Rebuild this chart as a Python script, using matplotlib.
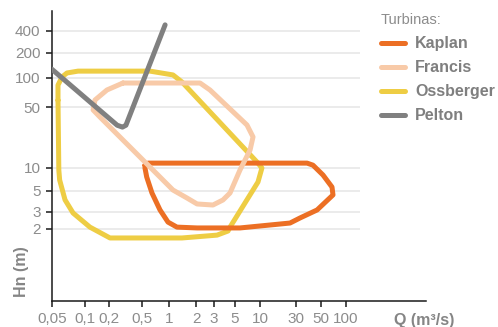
import numpy as np
import matplotlib.pyplot as plt

plt.rcParams['font.family'] = ['Liberation Sans', 'DejaVu Sans']

# axis ticks
q_ticks = [0.05, 0.1, 0.2, 0.5, 1, 2, 3, 5, 10, 30, 50, 100]
q_tick_labels = ['0,05', '0,1', '0,2', '0,5', '1', '2', '3', '5', '10', '30', '50', '100']
h_ticks = [2, 3, 5, 10, 50, 100, 200, 400]
h_tick_labels = ['2', '3', '5', '10', '50', '100', '200', '400']

# application ranges, Q (m3/s) vs Hn (m)
kaplan_q = [0.543, 0.586, 37.7, 42.6, 53.3, 68.4, 70.3, 46.4, 32.6, 25.0, 5.74, 2.05, 1.22, 0.968, 0.792, 0.647, 0.567, 0.543, 0.543]
kaplan_h = [10.7, 11.3, 11.3, 10.7, 8.02, 5.58, 4.51, 3.13, 2.59, 2.30, 2.05, 2.05, 2.09, 2.35, 3.13, 4.73, 7.55, 9.9, 10.7]

francis_q = [0.294, 2.19, 2.74, 6.97, 8.24, 7.59, 5.74, 4.43, 3.73, 2.93, 2.05, 1.58, 1.10, 0.391, 0.153, 0.126, 0.133, 0.187, 0.294]
francis_h = [88.3, 88.3, 75, 31.2, 22.7, 16.0, 9.33, 4.73, 3.99, 3.53, 3.62, 4.19, 5.1, 16.0, 38.6, 46.6, 59.3, 75, 88.3]

ossberger_q = [0.057, 0.057, 0.062, 0.0687, 0.0865, 0.617, 1.10, 1.39, 9.46, 10.6, 9.46, 4.43, 4.22, 3.23, 1.39, 0.204, 0.115, 0.078, 0.066, 0.059, 0.058, 0.057]
ossberger_h = [59, 84, 102, 114, 120, 120, 108, 90.4, 11.3, 9.9, 6.5, 2.09, 1.90, 1.71, 1.59, 1.59, 2.09, 2.91, 4.0, 6.9, 9.3, 59]

pelton_q = [0.05, 0.25, 0.29, 0.32, 0.9]
pelton_h = [127, 31, 29.5, 31, 480]

Q_MAX = 800
H_MIN, H_MAX = 0.317, 740

# the original axes are log-like but unevenly spaced, so pin each tick to its
# pixel position and interpolate in log space in between
x_px = [51.7, 85, 109.3, 141.7, 169.3, 196, 214, 235, 260, 296, 320.7, 345.7, 426]
y_px = [301, 229, 211.7, 190.7, 167.7, 107.3, 77.7, 52.7, 30.7, 11]


def make_scale(vals, px, flip=False):
    lv = np.log10(vals)
    p = -np.asarray(px, float) if flip else np.asarray(px, float)

    def fwd(v):
        return np.interp(np.log10(np.clip(v, 1e-9, None)), lv, p)

    def inv(t):
        return 10 ** np.interp(t, p, lv)

    return fwd, inv


W, H = 498, 327
fig = plt.figure(figsize=(W / 100, H / 100), dpi=100)
ax = fig.add_axes([x_px[0] / W, (H - y_px[0]) / H,
                   (x_px[-1] - x_px[0]) / W, (y_px[0] - y_px[-1]) / H])

ax.set_xscale('function', functions=make_scale(q_ticks + [Q_MAX], x_px))
ax.set_yscale('function', functions=make_scale([H_MIN] + h_ticks + [H_MAX], y_px, flip=True))
ax.set_xlim(q_ticks[0], Q_MAX)
ax.set_ylim(H_MIN, H_MAX)

ax.hlines(h_ticks, q_ticks[0], 145, color='#e6e6e6', lw=1.1, zorder=0)

style = dict(lw=3.6, solid_joinstyle='round', solid_capstyle='round')
l_oss, = ax.plot(ossberger_q, ossberger_h, color='#eecd44', zorder=2, label='Ossberger', **style)
l_kap, = ax.plot(kaplan_q, kaplan_h, color='#ec6f24', zorder=3, label='Kaplan', **style)
l_fra, = ax.plot(francis_q, francis_h, color='#f8caa8', zorder=4, label='Francis', **style)
l_pel, = ax.plot(pelton_q, pelton_h, color='#808080', zorder=5, label='Pelton', **style)

ax.set_xticks(q_ticks, labels=q_tick_labels)
ax.set_yticks(h_ticks, labels=h_tick_labels)
ax.minorticks_off()
ax.tick_params(labelsize=11, colors='#1a1a1a', labelcolor='#8c8c8c', length=4, width=1.1, pad=4)

for side in ['top', 'right']:
    ax.spines[side].set_visible(False)
for side in ['left', 'bottom']:
    ax.spines[side].set_linewidth(1.1)
    ax.spines[side].set_color('#1a1a1a')

ylab = ax.set_ylabel('Hn (m)', fontsize=11.5, fontweight='bold', color='#858585')
ylab.set_va('center')
ax.yaxis.set_label_coords(-0.082, 0.1)
xlab = ax.set_xlabel('Q (m³/s)', fontsize=11.5, fontweight='bold', color='#858585')
xlab.set_va('center')
ax.xaxis.set_label_coords(0.995, -0.066)

leg = ax.legend(handles=[l_kap, l_fra, l_oss, l_pel], title='Turbinas:', alignment='left',
                loc='upper left', bbox_to_anchor=(374.5 / W, 1 - 7 / H), bbox_transform=fig.transFigure,
                frameon=False, borderpad=0.4, borderaxespad=0, handlelength=1.5, handletextpad=0.63,
                labelspacing=0.56, title_fontsize=10.5,
                prop={'weight': 'bold', 'size': 11.5})
leg.get_title().set_color('#8c8c8c')
for t in leg.get_texts():
    t.set_color('#7f7f7f')

fig.savefig('out.png', dpi=100)
